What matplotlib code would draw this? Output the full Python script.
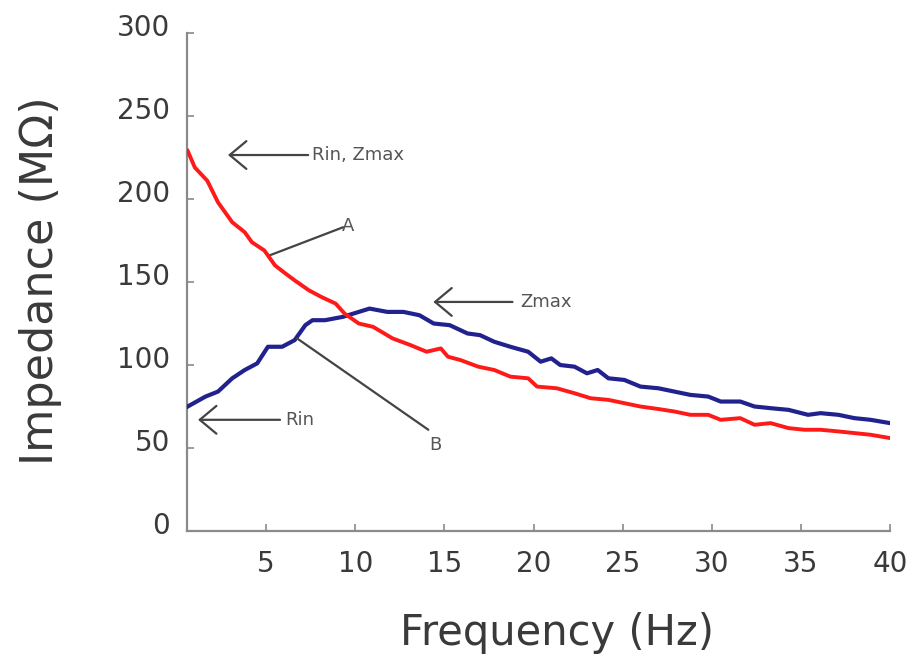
import numpy as np
import matplotlib.pyplot as plt
import matplotlib.transforms as mtransforms

# Datos (frecuencia en Hz, impedancia en MOhm)
freq_a = [0.6, 1.0, 1.7, 2.3, 3.1, 3.8, 4.2, 4.9, 5.5, 6.1, 6.6, 7.4, 8.1, 8.9, 9.4,
          10.2, 11.0, 12.1, 13.1, 14.0, 14.8, 15.2, 15.9, 16.9, 17.8, 18.7, 19.7,
          20.2, 21.3, 22.3, 23.2, 24.2, 25.1, 26.0, 27.0, 27.9, 28.8, 29.8, 30.5,
          31.6, 32.4, 33.3, 34.3, 35.2, 36.1, 37.1, 38.0, 38.9, 40.0]
imp_a = [229, 219, 211, 198, 186, 180, 174, 169, 160, 155, 151, 145, 141, 137, 131,
         125, 123, 116, 112, 108, 110, 105, 103, 99, 97, 93, 92,
         87, 86, 83, 80, 79, 77, 75, 73.5, 72, 70, 70, 67,
         68, 64, 65, 62, 61, 61, 60, 59, 58, 56]

freq_b = [0.6, 1.6, 2.3, 3.1, 3.8, 4.5, 5.1, 5.9, 6.6, 7.2, 7.6, 8.3, 9.3, 10.2,
          10.8, 11.8, 12.7, 13.6, 14.4, 15.3, 16.3, 17.0, 17.8, 18.7, 19.7, 20.4,
          21.0, 21.5, 22.3, 23.0, 23.6, 24.2, 25.1, 26.0, 27.0, 27.9, 28.8, 29.8,
          30.5, 31.6, 32.4, 33.3, 34.3, 35.4, 36.1, 37.1, 38.0, 38.9, 40.0]
imp_b = [75, 81, 84, 92, 97, 101, 111, 111, 115, 124, 127, 127, 129, 132,
         134, 132, 132, 130, 125, 124, 119, 118, 114, 111, 108, 102,
         104, 100, 99, 95, 97, 92, 91, 87, 86, 84, 82, 81,
         78, 78, 75, 74, 73, 70, 71, 70, 68, 67, 65]

xticks = [5, 10, 15, 20, 25, 30, 35, 40]
yticks = [0, 50, 100, 150, 200, 250, 300]

gris = '#8a8a8a'
texto = '#555555'

fig = plt.figure(figsize=(9.17, 6.59), dpi=100)
ax = fig.add_axes([0.2039, 0.1942, 0.7667, 0.7557])

ax.plot(freq_b, imp_b, color='#22228f', lw=3.0, zorder=3)
ax.plot(freq_a, imp_a, color='#ff1a1a', lw=2.8, zorder=4)

ax.set_xlim(0.56, 40)
ax.set_ylim(0, 300)
ax.set_xticks(xticks)
ax.set_yticks(yticks)

for lado in ['top', 'right']:
    ax.spines[lado].set_visible(False)
for lado in ['left', 'bottom']:
    ax.spines[lado].set_color(gris)
    ax.spines[lado].set_linewidth(1.6)

ax.tick_params(axis='both', direction='in', length=5, width=1.2, color=gris,
               labelsize=20, labelcolor='#3a3a3a')
ax.tick_params(axis='y', pad=12)
ax.tick_params(axis='x', pad=14)

# etiquetas del eje y un poco por encima de la marca
desplaza = mtransforms.ScaledTranslation(0, 0.08, fig.dpi_scale_trans)
for lab in ax.get_yticklabels():
    lab.set_transform(lab.get_transform() + desplaza)

ax.set_xlabel('Frequency (Hz)', fontsize=30, color='#3a3a3a')
ax.set_ylabel('Impedance (MΩ)', fontsize=32, color='#3a3a3a')
ax.xaxis.set_label_coords(0.526, -0.163)
ax.yaxis.set_label_coords(-0.178, 0.502)

flecha = dict(arrowstyle='->,head_length=0.6,head_width=0.5', color='#444444',
              lw=1.6, mutation_scale=20, shrinkA=0, shrinkB=0)
linea = dict(arrowstyle='-', color='#444444', lw=1.6, shrinkA=0, shrinkB=0)

# flechas con texto
ax.annotate('', xy=(2.86, 226.5), xytext=(7.36, 226.5), arrowprops=flecha)
ax.text(7.6, 226.5, 'Rin, Zmax', fontsize=13, color=texto, va='center', ha='left')

ax.annotate('', xy=(14.38, 138), xytext=(18.82, 138), arrowprops=flecha)
ax.text(19.27, 138, 'Zmax', fontsize=13, color=texto, va='center', ha='left')

ax.annotate('', xy=(1.18, 67), xytext=(5.78, 67), arrowprops=flecha)
ax.text(6.07, 67, 'Rin', fontsize=13, color=texto, va='center', ha='left')

# lineas A y B
ax.annotate('', xy=(5.11, 165.7), xytext=(9.32, 183), arrowprops=linea)
ax.text(9.6, 184, 'A', fontsize=13, color=texto, va='center', ha='center')

ax.annotate('', xy=(6.74, 116), xytext=(14.1, 61), arrowprops=linea)
ax.text(14.5, 52, 'B', fontsize=13, color=texto, va='center', ha='center')

fig.savefig('out.png', dpi=100)
